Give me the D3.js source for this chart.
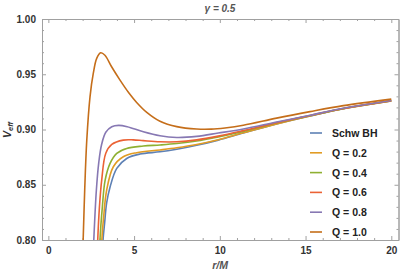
<!DOCTYPE html>
<html>
<head>
<meta charset="utf-8">
<script src="https://cdn.jsdelivr.net/npm/d3@7/dist/d3.min.js"></script>
<style>
body { margin: 0; background: #fff; }
svg { display: block; font-family: "Liberation Sans", Arial, sans-serif; }
.frame path { stroke: #a0a0a0; }
.tick text { font-weight: bold; font-size: 10px; fill: #333; }
</style>
</head>
<body>
<div id="chart"></div>
<script>
// r/M, V_eff points
var schw = [[3.15,0.78],[3.19,0.80],[3.28,0.815],[3.4,0.8335],[3.6,0.848],[3.99,0.8648],[4.57,0.8738],[5.35,0.8778],[6.51,0.8798],[7.49,0.8822],[8.65,0.8857],[9.91,0.8904],[11.37,0.8968],[13.31,0.905],[15.26,0.9122],[17.2,0.9188],[20,0.9258]];
var q02 = [[3.09,0.78],[3.12,0.80],[3.22,0.82],[3.4,0.845],[3.79,0.8663],[4.37,0.8753],[5.15,0.879],[6.51,0.8815],[7.49,0.8835],[8.65,0.8865],[9.91,0.8908],[11.37,0.897],[13.31,0.9051],[15.26,0.9123],[17.2,0.9188],[20,0.9259]];
var q04 = [[2.97,0.78],[3.01,0.80],[3.15,0.83],[3.31,0.854],[3.6,0.8693],[3.99,0.8784],[4.57,0.8829],[5.54,0.885],[6.51,0.886],[7.49,0.8873],[8.65,0.8896],[9.91,0.8933],[11.37,0.8982],[13.31,0.9058],[15.26,0.9125],[17.2,0.9189],[20,0.926]];
var q06 = [[2.84,0.78],[2.88,0.80],[2.98,0.83],[3.11,0.854],[3.35,0.8785],[3.7,0.8865],[4.37,0.8904],[4.95,0.8906],[5.54,0.8899],[6.51,0.8889],[7.49,0.8889],[8.65,0.8906],[9.91,0.894],[11.37,0.899],[13.31,0.9062],[15.26,0.9127],[17.2,0.919],[20,0.9261]];
var q08 = [[2.6,0.78],[2.65,0.80],[2.8,0.845],[2.94,0.87],[3.1,0.886],[3.35,0.8975],[3.7,0.9025],[4.1,0.9037],[4.6,0.9025],[5.54,0.8979],[6.51,0.8943],[7.49,0.8928],[8.65,0.8938],[9.91,0.8968],[11.37,0.9005],[13.31,0.9068],[15.26,0.9129],[17.2,0.9192],[20,0.9262]];
var q10 = [[1.98,0.78],[2.03,0.80],[2.12,0.845],[2.24,0.89],[2.43,0.9296],[2.62,0.9507],[2.82,0.9643],[3.05,0.9694],[3.3,0.9672],[3.68,0.957],[4.18,0.9447],[4.7,0.933],[5.15,0.9245],[5.74,0.9155],[6.51,0.9075],[7.49,0.9026],[8.65,0.9004],[9.5,0.9003],[10.3,0.9014],[11.37,0.9038],[13.31,0.9103],[15.26,0.9162],[17.2,0.9216],[20,0.9275]];

var labels = ["Schw BH", "Q = 0.2", "Q = 0.4", "Q = 0.6", "Q = 0.8", "Q = 1.0"];
var colors = ["#5e81b5", "#e19c24", "#8fb032", "#eb6235", "#8778b3", "#c56e1a"];
var series = [schw, q02, q04, q06, q08, q10];

var xTicks = [0, 5, 10, 15, 20];
var yTicks = [0.80, 0.85, 0.90, 0.95, 1.00];

var W = 400, H = 273;
var margin = {left: 42, right: 1.5, top: 19, bottom: 33};
var width = W - margin.left - margin.right;
var height = H - margin.top - margin.bottom;

var svg = d3.select("#chart").append("svg").attr("width", W).attr("height", H);
var g = svg.append("g").attr("transform", "translate(" + margin.left + "," + margin.top + ")");

var x = d3.scaleLinear().domain([-0.37, 20.42]).range([0, width]);
var y = d3.scaleLinear().domain([0.80, 1.00]).range([height, 0]);

// minor ticks
var xMinor = d3.range(0, 21, 1).filter(function(d) { return d % 5 != 0; });
var yMinor = d3.range(0.80, 1.001, 0.01).filter(function(d) { return Math.round(d * 100) % 5 != 0; });

function frameAxis(axis, tr) {
  return g.append("g").attr("class", "frame").attr("transform", tr).call(axis);
}

// bottom
frameAxis(d3.axisBottom(x).tickValues(xTicks).tickSizeInner(-4).tickSizeOuter(0).tickPadding(7).tickFormat(d3.format("d")), "translate(0," + height + ")");
frameAxis(d3.axisBottom(x).tickValues(xMinor).tickSizeInner(-2).tickSizeOuter(0).tickFormat(""), "translate(0," + height + ")");
// top
frameAxis(d3.axisTop(x).tickValues(xTicks).tickSizeInner(-4).tickSizeOuter(0).tickFormat(""), "translate(0,0)");
frameAxis(d3.axisTop(x).tickValues(xMinor).tickSizeInner(-2).tickSizeOuter(0).tickFormat(""), "translate(0,0)");
// left
frameAxis(d3.axisLeft(y).tickValues(yTicks).tickSizeInner(-4).tickSizeOuter(0).tickPadding(6).tickFormat(d3.format(".2f")), "translate(0,0)");
frameAxis(d3.axisLeft(y).tickValues(yMinor).tickSizeInner(-2).tickSizeOuter(0).tickFormat(""), "translate(0,0)");
// right
frameAxis(d3.axisRight(y).tickValues(yTicks).tickSizeInner(-4).tickSizeOuter(0).tickFormat(""), "translate(" + width + ",0)");
frameAxis(d3.axisRight(y).tickValues(yMinor).tickSizeInner(-2).tickSizeOuter(0).tickFormat(""), "translate(" + width + ",0)");

g.selectAll(".frame .tick line").attr("stroke", "#a0a0a0");

// curves
g.append("clipPath").attr("id", "clip").append("rect").attr("width", width).attr("height", height);

var line = d3.line()
  .x(function(d) { return x(d[0]); })
  .y(function(d) { return y(d[1]); })
  .curve(d3.curveCatmullRom.alpha(0.5));

g.append("g").attr("clip-path", "url(#clip)")
  .selectAll("path.curve").data(series).enter().append("path")
  .attr("class", "curve")
  .attr("d", line)
  .attr("fill", "none")
  .attr("stroke", function(d, i) { return colors[i]; })
  .attr("stroke-width", 1.6);

// legend
var leg = svg.append("g").attr("transform", "translate(310,133)");
labels.forEach(function(l, i) {
  var row = leg.append("g").attr("transform", "translate(0," + (i * 19.8) + ")");
  row.append("line").attr("x1", 0).attr("x2", 12).attr("y1", 0).attr("y2", 0)
    .attr("stroke", colors[i]).attr("stroke-width", 1.6);
  row.append("text").attr("x", 22).attr("y", 4).text(l)
    .style("font-size", "10.5px").style("font-weight", "bold").style("fill", "#222");
});

// title and axis labels
svg.append("text").attr("x", 220).attr("y", 12).attr("text-anchor", "middle")
  .style("font-size", "10px").style("font-style", "italic").style("font-weight", "bold").style("fill", "#555")
  .text("\u03B3 = 0.5");

svg.append("text").attr("x", 220).attr("y", 269).attr("text-anchor", "middle")
  .style("font-size", "10.5px").style("font-style", "italic").style("font-weight", "bold").style("fill", "#555")
  .text("r/M");

var yl = svg.append("text").attr("transform", "translate(11,130) rotate(-90)").attr("text-anchor", "middle")
  .style("font-size", "10.5px").style("font-style", "italic").style("font-weight", "bold").style("fill", "#333");
yl.append("tspan").text("V");
yl.append("tspan").attr("dy", 2).style("font-size", "7.5px").text("eff");
</script>
</body>
</html>
